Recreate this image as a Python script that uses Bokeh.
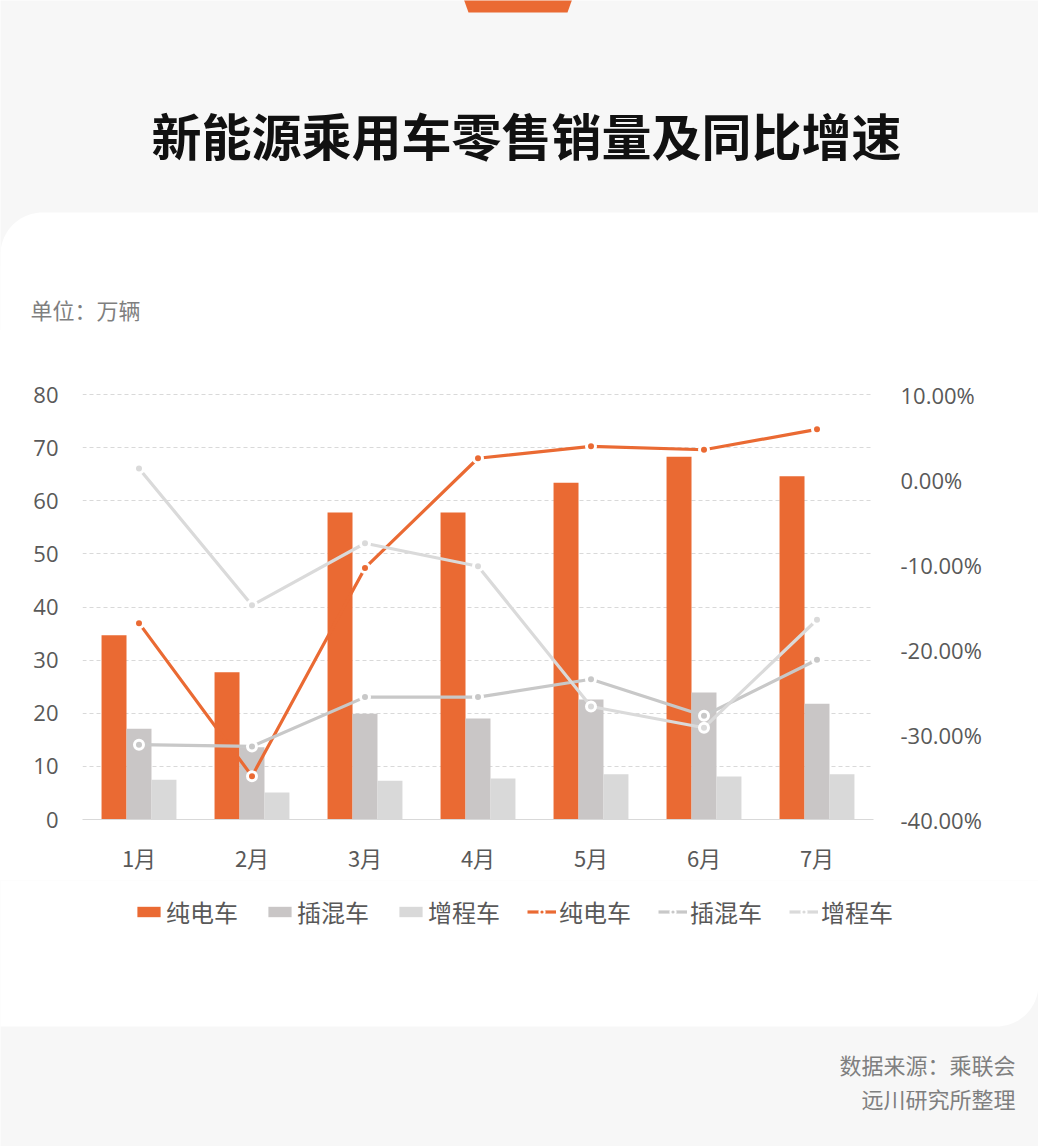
import numpy as np
from bokeh.plotting import figure
from bokeh.layouts import column
from bokeh.models import (FactorRange, Range1d, LinearAxis, FixedTicker, NumeralTickFormatter,
                          Legend, LegendItem, ColumnDataSource, Label)
from bokeh.transform import dodge
from bokeh.embed import file_html
from bokeh.resources import INLINE

# ---------------- data ----------------
months = ["1月", "2月", "3月", "4月", "5月", "6月", "7月"]
series_names = ["纯电车", "插混车", "增程车"]
bev_sales = [34.7, 27.7, 57.8, 57.8, 63.4, 68.3, 64.6]
phev_sales = [17.1, 13.6, 19.9, 19.0, 22.6, 23.9, 21.8]
erev_sales = [7.5, 5.1, 7.3, 7.7, 8.5, 8.1, 8.5]
bev_yoy = [-0.169, -0.349, -0.104, 0.025, 0.039, 0.035, 0.059]
phev_yoy = [-0.312, -0.314, -0.256, -0.256, -0.235, -0.278, -0.212]
erev_yoy = [0.013, -0.148, -0.075, -0.102, -0.267, -0.292, -0.165]
left_ticks = [0, 10, 20, 30, 40, 50, 60, 70, 80]
right_ticks = [-0.4, -0.3, -0.2, -0.1, 0.0, 0.1]

title_text = "新能源乘用车零售销量及同比增速"
unit_text = "单位：万辆"
source_lines = ["数据来源：乘联会", "远川研究所整理"]

# ---------------- style ----------------
BG = "#F7F7F7"
ORANGE = "#EA6A33"
PHEV_BAR = "#C9C6C6"
EREV_BAR = "#D9D9D9"
PHEV_LINE = "#C8C8C8"
EREV_LINE = "#DADADA"
BAR_COLORS = [ORANGE, PHEV_BAR, EREV_BAR]
LINE_COLORS = [ORANGE, PHEV_LINE, EREV_LINE]
TXT = "#595959"
CJK = "Noto Sans CJK SC"
NUM = "Open Sans"
W = 1038
HEAD_H, CHART_H, FOOT_H = 330, 550, 266
R = 42


def deco_fig(h):
    f = figure(width=W, height=h, x_range=Range1d(0, W), y_range=Range1d(0, h),
               toolbar_location=None, output_backend="svg", min_border=0,
               x_axis_location=None, y_axis_location=None)
    f.frame_align = False
    f.background_fill_color = BG
    f.border_fill_color = BG
    f.outline_line_color = None
    f.grid.visible = False
    return f


t = np.linspace(0, np.pi / 2, 24)

# ---------------- header (page y 0..330) ----------------
head = deco_fig(HEAD_H)
hy = lambda v: HEAD_H - v
cx_ = list(R - R * np.cos(t))
cy_ = list(212 + R - R * np.sin(t))
card_x = cx_ + [W + 2, W + 2, -2]
card_y = [hy(v) for v in cy_] + [hy(212), hy(332), hy(332)]
head.patch(card_x, card_y, fill_color="white", line_color=None)
head.patch([463, 572, 567, 468], [hy(-2), hy(-2), hy(12), hy(12)], fill_color=ORANGE, line_color=None)
head.add_layout(Label(x=526, y=hy(133), text=title_text, text_font=CJK, text_font_size="50px",
                      text_font_style="bold", text_color="#111111", text_align="center",
                      text_baseline="middle"))
head.add_layout(Label(x=30, y=hy(308), text=unit_text, text_font=CJK, text_font_size="22px",
                      text_color="#7F7F7F", text_align="left", text_baseline="middle"))

# ---------------- chart (page y 330..880) ----------------
src = ColumnDataSource(dict(month=months, bev=bev_sales, phev=phev_sales, erev=erev_sales,
                            bev_yoy=bev_yoy, phev_yoy=phev_yoy, erev_yoy=erev_yoy))
ext = 1.0  # one extra pixel above the 80 / 10% line so the top grid line shows
p = figure(width=W, height=CHART_H, x_range=FactorRange(*months),
           y_range=Range1d(0, 80 + ext * 80 / 425.0),
           toolbar_location=None, output_backend="svg", title=None,
           min_border_left=82, min_border_right=165, min_border_top=63, min_border_bottom=61)
p.frame_align = False
p.extra_y_ranges = {"pct": Range1d(-0.4, 0.1 + ext * 0.5 / 425.0)}
p.background_fill_color = "white"
p.border_fill_color = "white"
p.outline_line_color = None

bw = 0.221
bar_rs = []
for off, col, c in [(-bw, "bev", ORANGE), (0, "phev", PHEV_BAR), (bw, "erev", EREV_BAR)]:
    bar_rs.append(p.vbar(x=dodge("month", off, range=p.x_range), top=col, width=bw, source=src,
                         fill_color=c, line_color=None))

specs = [("bev_yoy", ORANGE), ("phev_yoy", PHEV_LINE), ("erev_yoy", EREV_LINE)]
line_rs = [p.line(x="month", y=col, source=src, y_range_name="pct", line_color=c,
                  line_width=3.2) for col, c in specs]
scat_rs = [p.scatter(x="month", y=col, source=src, y_range_name="pct", size=9,
                     fill_color=c, line_color="white", line_width=3) for col, c in specs]

p.xaxis.axis_line_color = "#D9D9D9"
p.xaxis.major_tick_line_color = None
p.xaxis.minor_tick_line_color = None
p.xaxis.major_tick_out = 0
p.xaxis.major_label_standoff = 21
p.xaxis.major_label_text_font = CJK
p.xaxis.major_label_text_font_size = "22px"
p.xaxis.major_label_text_color = TXT

p.yaxis.ticker = FixedTicker(ticks=left_ticks)
p.yaxis.axis_line_color = None
p.yaxis.major_tick_line_color = None
p.yaxis.minor_tick_line_color = None
p.yaxis.major_tick_out = 0
p.yaxis.major_label_standoff = 24
p.yaxis.major_label_text_font = NUM
p.yaxis.major_label_text_font_size = "22px"
p.yaxis.major_label_text_color = TXT

rax = LinearAxis(y_range_name="pct", ticker=FixedTicker(ticks=right_ticks),
                 formatter=NumeralTickFormatter(format="0.00%"))
rax.axis_line_color = None
rax.major_tick_line_color = None
rax.minor_tick_line_color = None
rax.major_tick_out = 0
rax.major_label_standoff = 27
rax.major_label_text_font = NUM
rax.major_label_text_font_size = "22px"
rax.major_label_text_color = TXT
p.add_layout(rax, "right")

p.xgrid.visible = False
p.ygrid.ticker = FixedTicker(ticks=left_ticks)
p.ygrid.grid_line_color = "#D9D9D9"
p.ygrid.grid_line_dash = "4 3"
p.ygrid.grid_line_width = 1

# ---------------- legend + footer (page y 880..1146) ----------------
foot = deco_fig(FOOT_H)
fy = lambda v: 1146 - v
ax_ = list(996 + R * np.cos(t))
ay_ = list(984 + R * np.sin(t))
wx = [-2, W + 2] + ax_ + [-2]
wy = [fy(878), fy(878)] + [fy(v) for v in ay_] + [fy(1026)]
foot.patch(wx, wy, fill_color="white", line_color=None)
for txt, yy in zip(source_lines, [1063, 1097]):
    foot.add_layout(Label(x=1015, y=fy(yy), text=txt, text_font=CJK, text_font_size="22px",
                          text_color="#7F7F7F", text_align="right", text_baseline="middle"))

# legend keys: off-canvas stand-ins that copy the chart's bar / line styles
OFF = -1000
key_bars = [foot.vbar(x=[OFF], top=[OFF], bottom=[OFF - 1], width=1, fill_color=c, line_color=None)
            for c in BAR_COLORS]
key_lines = [foot.line(x=[OFF - 10, OFF], y=[OFF, OFF], line_color=c, line_width=3.2)
             for c in LINE_COLORS]
key_dots = [foot.scatter(x=[OFF], y=[OFF], size=9, fill_color=c, line_color="white", line_width=2)
            for c in LINE_COLORS]
items = [LegendItem(label=series_names[i], renderers=[key_bars[i]]) for i in range(3)]
items += [LegendItem(label=series_names[i], renderers=[key_lines[i], key_dots[i]]) for i in range(3)]
LEG_H = 37
legend = Legend(items=items, orientation="horizontal",
                location=(134, FOOT_H - (910 - 880) - LEG_H / 2),
                glyph_width=29, glyph_height=13, label_standoff=3, spacing=27,
                padding=0, margin=0, border_line_color=None, background_fill_alpha=0,
                label_text_font=CJK, label_text_font_size="24px", label_text_color=TXT)
foot.add_layout(legend, "center")

layout = column(head, p, foot, spacing=0)
open("out.html", "w").write(file_html(layout, INLINE))
